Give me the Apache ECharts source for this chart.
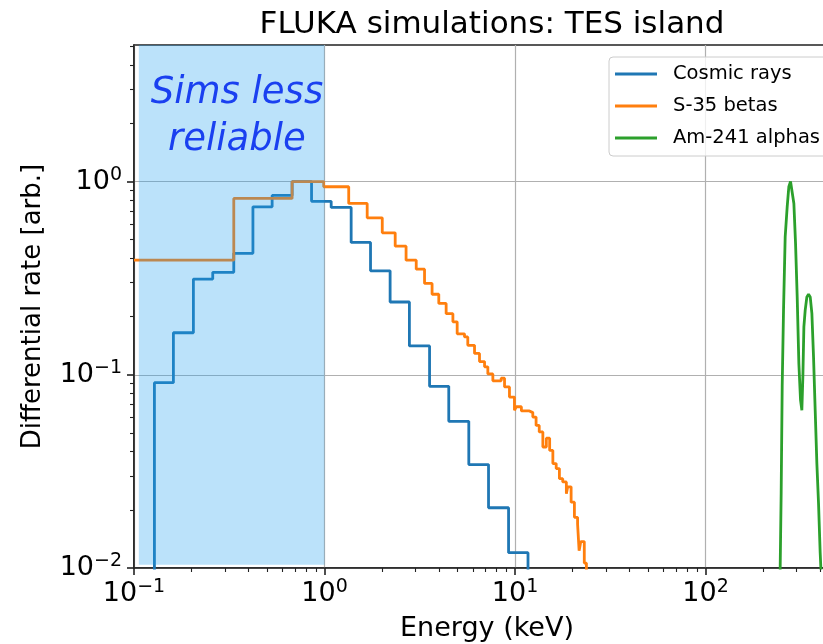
<!DOCTYPE html>
<html>
<head>
<meta charset="utf-8">
<script src="https://cdn.jsdelivr.net/npm/echarts@6/dist/echarts.min.js"></script>
<style>
  html, body { margin: 0; padding: 0; background: #fff; }
  #chart { width: 823px; height: 644px; }
</style>
</head>
<body>
<div id="chart"></div>
<script>
// Rates below the plotted range (empty bins)
const FLOOR = 1e-4;

// Cosmic rays: histogram bin edges (keV) and rates per bin
const cosmicEdges = [0.128, 0.161, 0.205, 0.259, 0.334, 0.421, 0.531, 0.676, 0.855, 1.084,
  1.38, 1.744, 2.21, 2.79, 3.56, 4.49, 5.72, 7.26, 9.25, 11.7];
const cosmicRates = [0.091, 0.165, 0.313, 0.339, 0.425, 0.74, 0.848, 1.0, 0.79, 0.735,
  0.484, 0.345, 0.238, 0.141, 0.0871, 0.0574, 0.0343, 0.0205, 0.012];

// S-35 betas: histogram bin edges (keV) and rates per bin
const betaEdges = [0.1, 0.334, 0.676, 0.99, 1.34, 1.675, 2.01, 2.35, 2.68, 3.03, 3.35, 3.67,
  3.98, 4.35, 4.72, 4.97, 5.43, 5.65, 6.13, 6.51, 6.92, 7.2, 7.65, 8.46, 8.81, 9.35, 9.93,
  10.15, 10.8, 11.9, 12.4, 12.9, 13.4, 14.0, 14.6, 15.2, 15.8, 16.45, 17.1, 17.8, 18.6,
  18.9, 19.7, 20.5, 21.3, 21.7, 22.15, 23.1, 23.7];
const betaRates = [0.392, 0.818, 1.0, 0.94, 0.771, 0.649, 0.543, 0.463, 0.392, 0.352, 0.297,
  0.261, 0.234, 0.207, 0.188, 0.163, 0.157, 0.142, 0.129, 0.117, 0.110, 0.101, 0.093, 0.096,
  0.0865, 0.0767, 0.0655, 0.0683, 0.065, 0.0637, 0.0604, 0.0547, 0.0506, 0.0423, 0.047,
  0.0406, 0.0347, 0.0327, 0.029, 0.0279, 0.0242, 0.0263, 0.0219, 0.0183, 0.0169, 0.0123,
  0.0137, 0.0106];

// Am-241 alphas: sampled spectrum (keV, rate)
const alphaEnergy = [240, 246.5, 249.5, 252.6, 256.7, 261.9, 268.3, 273.7, 279.4, 285.1,
  290.9, 296.8, 302.8, 309.0, 315.3, 320.4, 324.3, 328.3, 333.6, 340.4, 347.3, 354.4, 361.6,
  368.9, 376.4, 384.1, 391.9, 399.8, 405, 415, 430];
const alphaRate = [FLOOR, 0.0100, 0.0245, 0.087, 0.216, 0.518, 0.74, 0.94, 1.0, 1.0, 0.77,
  0.48, 0.253, 0.114, 0.0739, 0.0655, 0.0977, 0.177, 0.216, 0.253, 0.261, 0.253, 0.208,
  0.124, 0.0655, 0.0347, 0.0216, 0.012, 0.009, 0.003, FLOOR];

// Axis ranges and tick labels
const xMin = 0.1, xMax = 508;
const yMin = 0.01, yMax = 5.09;
const xTickValues = [0.1, 1, 10, 100];
const xTickExponents = ['\u22121', '0', '1', '2'];
const yTickValues = [0.01, 0.1, 1];
const yTickExponents = ['\u22122', '\u22121', '0'];

// Region where the simulation is less trustworthy
const shadeFrom = 0.106, shadeTo = 1.0, shadeFloor = 0.0104;
const noteText = 'Sims less\nreliable';
const notePos = [0.347, 2.17];

const FONT = 'DejaVu Sans';
const C_COSMIC = '#1f77b4', C_BETA = '#ff7f0e', C_ALPHA = '#2ca02c';

// minor tick positions (2..9 x 10^k), as log10 values for the overlay axes
function minorTicksLog(lo, hi) {
  const out = [];
  for (let d = Math.floor(Math.log10(lo)); d <= Math.ceil(Math.log10(hi)); d++) {
    for (let m = 2; m <= 9; m++) {
      const v = m * Math.pow(10, d);
      if (v > lo && v < hi) out.push(Math.log10(v));
    }
  }
  return out;
}

// step ('post') outline of a histogram
function stepPoints(edges, rates, riseFromFloor) {
  const pts = [];
  if (riseFromFloor) pts.push([edges[0], FLOOR]);
  for (let i = 0; i < rates.length; i++) pts.push([edges[i], rates[i]]);
  pts.push([edges[edges.length - 1], rates[rates.length - 1]]);
  pts.push([edges[edges.length - 1], FLOOR]);
  return pts;
}

function powLabel(values, exps) {
  return function (value) {
    const i = values.findIndex(v => Math.abs(Math.log10(v) - Math.log10(value)) < 1e-6);
    return i < 0 ? '' : '{b|10}{s|' + exps[i] + '}';
  };
}

const labelRich = {
  b: { fontFamily: FONT, fontSize: 27, color: '#000', lineHeight: 32 },
  s: { fontFamily: FONT, fontSize: 19, color: '#000', verticalAlign: 'top', lineHeight: 22 }
};

const axisLineStyle = { color: '#222', width: 1.6 };
const minorTickStyle = { color: '#222', width: 1.1 };

const chart = echarts.init(document.getElementById('chart'), null, { renderer: 'canvas' });

chart.setOption({
  animation: false,
  backgroundColor: '#fff',
  title: {
    text: 'FLUKA simulations: TES island',
    left: 487,
    textAlign: 'center',
    top: 4,
    textStyle: { fontFamily: FONT, fontSize: 31, fontWeight: 'normal', color: '#000' }
  },
  grid: {
    left: 134, top: 45, width: 706, height: 523,
    outerBoundsMode: 'none',
    containLabel: false,
    show: true, borderColor: '#222', borderWidth: 1.6, backgroundColor: 'transparent'
  },
  legend: {
    data: ['Cosmic rays', 'S-35 betas', 'Am-241 alphas'],
    orient: 'vertical',
    left: 609, top: 57,
    padding: [7, 30, 8, 6],
    itemGap: 12,
    itemWidth: 42, itemHeight: 3,
    icon: 'rect',
    backgroundColor: 'rgba(255,255,255,0.8)',
    borderColor: '#cccccc', borderWidth: 1, borderRadius: 4,
    textStyle: { fontFamily: FONT, fontSize: 19.5, color: '#000', lineHeight: 18, padding: [0, 0, 0, 11] }
  },
  xAxis: [
    {
      type: 'log', logBase: 10, min: xMin, max: xMax,
      name: 'Energy (keV)', nameLocation: 'middle', nameGap: 47,
      nameTextStyle: { fontFamily: FONT, fontSize: 27, color: '#000' },
      axisLine: { show: true, onZero: false, lineStyle: axisLineStyle },
      axisTick: { show: true, customValues: xTickValues, length: 7, lineStyle: axisLineStyle },
      axisLabel: { customValues: xTickValues, formatter: powLabel(xTickValues, xTickExponents), rich: labelRich, margin: 10 },
      splitLine: { show: true, lineStyle: { color: '#b0b0b0', width: 1.2 } },
      minorTick: { show: false }
    },
    {
      // log10-space overlay carrying only the minor ticks
      type: 'value', min: Math.log10(xMin), max: Math.log10(xMax), position: 'bottom',
      axisLine: { show: false, onZero: false },
      axisTick: { show: true, customValues: minorTicksLog(xMin, xMax), length: 4, lineStyle: minorTickStyle },
      axisLabel: { show: false },
      splitLine: { show: false }
    }
  ],
  yAxis: [
    {
      type: 'log', logBase: 10, min: yMin, max: yMax,
      name: 'Differential rate [arb.]', nameLocation: 'middle', nameGap: 88,
      nameTextStyle: { fontFamily: FONT, fontSize: 26, color: '#000' },
      axisLine: { show: true, onZero: false, lineStyle: axisLineStyle },
      axisTick: { show: true, customValues: yTickValues, length: 7, lineStyle: axisLineStyle },
      axisLabel: { customValues: yTickValues, formatter: powLabel(yTickValues, yTickExponents), rich: labelRich, margin: 12 },
      splitLine: { show: true, lineStyle: { color: '#b0b0b0', width: 1.2 } },
      minorTick: { show: false }
    },
    {
      type: 'value', min: Math.log10(yMin), max: Math.log10(yMax), position: 'left',
      axisLine: { show: false, onZero: false },
      axisTick: { show: true, customValues: minorTicksLog(yMin, yMax), length: 4, lineStyle: minorTickStyle },
      axisLabel: { show: false },
      splitLine: { show: false }
    }
  ],
  series: [
    {
      name: 'Cosmic rays', type: 'line', step: 'end', symbol: 'none', z: 2,
      data: stepPoints(cosmicEdges, cosmicRates, true),
      itemStyle: { color: C_COSMIC }, lineStyle: { color: C_COSMIC, width: 2.8 }
    },
    {
      name: 'S-35 betas', type: 'line', step: 'end', symbol: 'none', z: 2,
      data: stepPoints(betaEdges, betaRates, false),
      itemStyle: { color: C_BETA }, lineStyle: { color: C_BETA, width: 2.8 }
    },
    {
      name: 'Am-241 alphas', type: 'line', symbol: 'none', z: 2,
      data: alphaEnergy.map((e, i) => [e, alphaRate[i]]),
      itemStyle: { color: C_ALPHA }, lineStyle: { color: C_ALPHA, width: 2.8 }
    },
    {
      name: 'shade', type: 'line', symbol: 'none', z: 3, data: [],
      markArea: {
        silent: true, z: 4,
        itemStyle: { color: 'rgba(30,160,240,0.3)', borderWidth: 0 },
        data: [[{ coord: [shadeFrom, shadeFloor] }, { coord: [shadeTo, yMax] }]]
      },
      markPoint: {
        silent: true, z: 6,
        symbol: 'circle', symbolSize: 1,
        itemStyle: { color: 'rgba(0,0,0,0)' },
        label: {
          show: true, position: 'inside', formatter: noteText,
          fontFamily: FONT, fontStyle: 'italic', fontSize: 37, lineHeight: 47,
          color: '#1a40f0', align: 'center'
        },
        data: [{ coord: notePos }]
      }
    }
  ]
});
</script>
</body>
</html>
